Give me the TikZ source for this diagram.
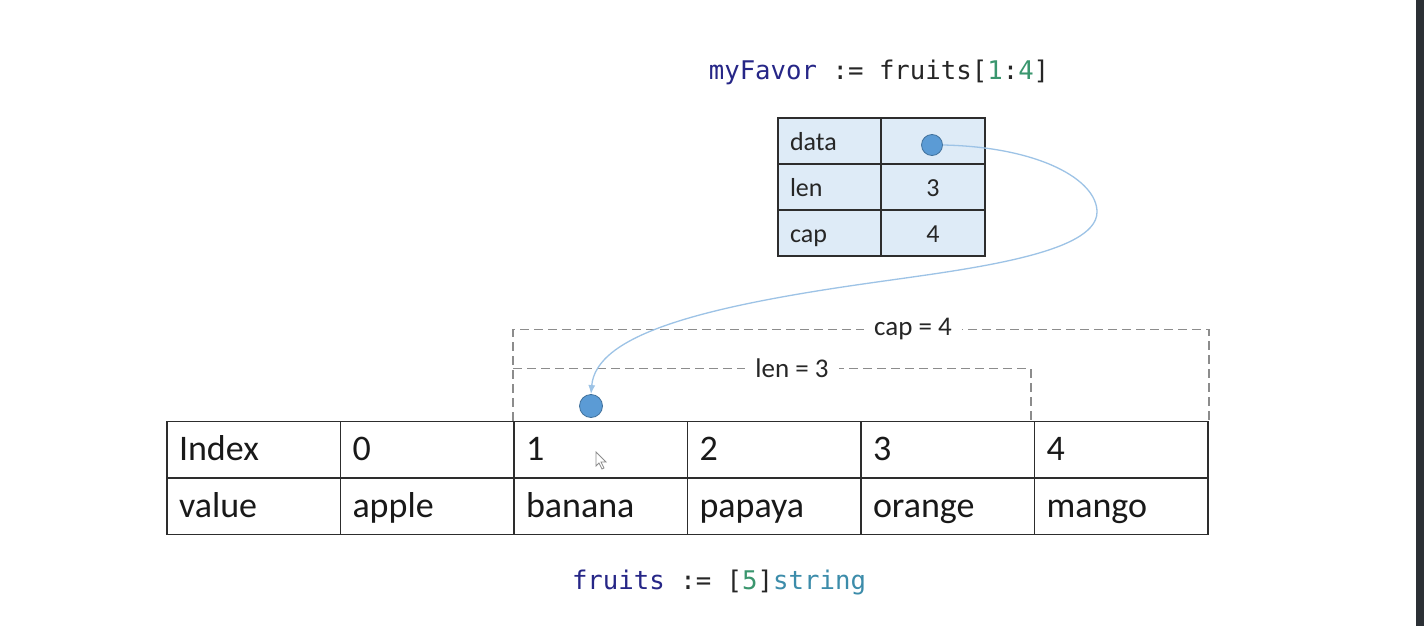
\documentclass[tikz,border=0pt]{standalone}
\usepackage{fontspec}
\setmainfont{Carlito}
\newfontfamily\codefont{DejaVu Sans Mono}
\usetikzlibrary{arrows.meta}
\definecolor{navyc}{RGB}{38,38,135}
\definecolor{numc}{RGB}{58,150,110}
\definecolor{typec}{RGB}{60,140,170}
\definecolor{cellfill}{RGB}{222,235,247}
\definecolor{dotfill}{RGB}{91,155,213}
\definecolor{dotedge}{RGB}{65,113,156}
\definecolor{curvec}{RGB}{157,195,230}
\definecolor{dashc}{RGB}{140,140,140}
\definecolor{gridc}{RGB}{45,45,45}
\definecolor{stripc}{RGB}{43,48,53}
\tikzset{
  cell/.style={draw=gridc, line width=1.5pt, minimum width=173.5pt, minimum height=56.5pt,
    text width=149.5pt, inner xsep=12pt, inner ysep=0pt, align=left,
    text height=28pt, text depth=6pt,
    font=\fontsize{36}{40}\selectfont, text=black!90},
  hcellL/.style={draw=gridc, fill=cellfill, line width=1.6pt, minimum width=103pt, minimum height=46pt,
    text width=79pt, inner xsep=12pt, inner ysep=0pt, align=left,
    text height=22pt, text depth=2.6pt,
    font=\fontsize{26}{30}\selectfont, text=black!85},
  hcellR/.style={draw=gridc, fill=cellfill, line width=1.6pt, minimum width=104pt, minimum height=46pt,
    text width=80pt, inner xsep=12pt, inner ysep=0pt, align=center,
    text height=22pt, text depth=2.6pt,
    font=\fontsize{26}{30}\selectfont, text=black!85},
  dot/.style={circle, fill=dotfill, draw=dotedge, line width=0.8pt, minimum size=21pt, inner sep=0pt},
  dashline/.style={draw=dashc, line width=1.8pt, dash pattern=on 9pt off 5pt},
  lbl/.style={fill=white, inner xsep=10pt, inner ysep=2pt, font=\fontsize{27}{30}\selectfont, text=black!85},
  code/.style={inner sep=0pt, font=\codefont\fontsize{25.7}{30}\selectfont, text=black!85},
  conn/.style={draw=curvec, line width=1.3pt, -{Latex[length=9pt,width=7pt]}},
}
\begin{document}
\begin{tikzpicture}[x=1pt,y=-1pt]
\useasboundingbox (0,0) rectangle (1424,626);
\fill[white] (0,0) rectangle (1416,626);
\fill[stripc] (1416,0) rectangle (1424,626);

% slice header
\node[code] (slicecode) at (879,72) {\textcolor{navyc}{myFavor} := fruits[\textcolor{numc}{1}:\textcolor{numc}{4}]};
\node[hcellL] (hdata) at (829.5,141) {data};
\node[hcellR] (vdata) at (933,141) {};
\node[hcellL] (hlen) at (829.5,187) {len};
\node[hcellR] (vlen) at (933,187) {3};
\node[hcellL] (hcap) at (829.5,233) {cap};
\node[hcellR] (vcap) at (933,233) {4};
\node[dot] (tdot) at (932,145) {};

% array
\foreach \i/\idx/\val in {0/Index/value,1/0/apple,2/1/banana,3/2/papaya,4/3/orange,5/4/mango}{
  \node[cell] (i\i) at ({167+173.5*(\i+0.5)},449.5) {\idx};
  \node[cell] (v\i) at ({167+173.5*(\i+0.5)},506) {\val};
}
\node[code] (arrcode) at (719,582) {\textcolor{navyc}{fruits} := [\textcolor{numc}{5}]\textcolor{typec}{string}};

% cap / len brackets
\draw[dashline] (i2.north west) -- ++(0,-91) -| (i5.north east);
\draw[dashline] (i2.north west) ++(0,-52) -| ([xshift=-3pt]i5.north west);
\node[lbl] (caplbl) at (913,329) {cap = 4};
\node[lbl] (lenlbl) at (792,368) {len = 3};

% pointer
\node[dot, minimum width=21pt, minimum height=23pt] (bdot) at (591,406) {};
\draw[conn] (tdot.east) .. controls (1040,147) and (1097,180) .. (1097,212)
  .. controls (1097,255) and (960,270) .. (870,283)
  .. controls (700,307) and (596,335) .. (bdot.north);

% mouse cursor
\filldraw[fill=white, draw=black!45, line width=0.8pt] (596,452) -- (596,466) -- (599,463) -- (602,469) -- (604,468) -- (601,462) -- (606,462) -- cycle;
\end{tikzpicture}
\end{document}
